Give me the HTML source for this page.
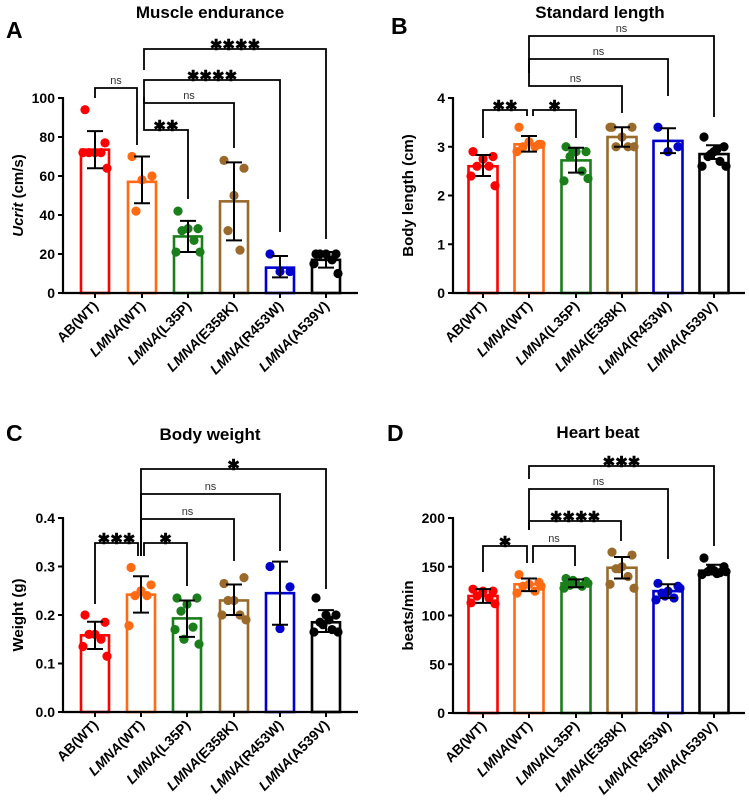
<!DOCTYPE html>
<html><head><meta charset="utf-8"><style>
body{margin:0;background:#fff;width:749px;height:800px;overflow:hidden}
svg{display:block;font-family:"Liberation Sans",Arial,sans-serif}
</style></head><body>
<svg id="s" width="749" height="800" viewBox="0 0 749 800"></svg>
<script>
const S=document.getElementById('s');let h='';
const cols=['#ff0000','#ff6a13','#1a7f1a','#9a6a2c','#0000cc','#000000'];
const names=[['AB(WT)',''],['LMNA','(WT)'],['LMNA','(L35P)'],['LMNA','(E358K)'],['LMNA','(R453W)'],['LMNA','(A539V)']];
function panel(o){
 const {ax,y0,ytop,ymax,ticks,tfmt,cx,xend,bars,brk,title,tx,ty,letter,lx,ly,ylab,bw}=o;
 const Y=v=>y0-(v/ymax)*(y0-ytop);
 h+=`<text x="${lx}" y="${ly}" font-size="23" font-weight="bold">${letter}</text>`;
 h+=`<text x="${tx}" y="${ty}" font-size="17" font-weight="bold" text-anchor="middle">${title}</text>`;
 bars.forEach((b,i)=>{const x=cx[i],c=cols[i];
  h+=`<rect x="${x-bw/2}" y="${Y(b.m)}" width="${bw}" height="${y0-Y(b.m)}" fill="none" stroke="${c}" stroke-width="2.6"/>`;
 });
 bars.forEach((b,i)=>{const x=cx[i],c=cols[i];
  b.p.forEach((v,k)=>{const off=[-10,10,0,-6,6,-12,12,-3,3][k%9];
   h+=`<circle cx="${x+off}" cy="${Y(v)}" r="4.6" fill="${c}"/>`;});
  h+=`<path d="M${x} ${Y(b.lo)}V${Y(b.hi)}M${x-8} ${Y(b.lo)}H${x+8}M${x-8} ${Y(b.hi)}H${x+8}" stroke="#000" stroke-width="2" fill="none"/>`;
 });
 h+=`<path d="M${ax} ${ytop-1}V${y0}H${xend}" stroke="#000" stroke-width="2.2" fill="none"/>`;
 ticks.forEach(t=>{const y=Y(t);h+=`<path d="M${ax-5} ${y}H${ax}" stroke="#000" stroke-width="2"/>`;
  h+=`<text x="${ax-8}" y="${y+5}" font-size="14" font-weight="bold" text-anchor="end">${tfmt(t)}</text>`;});
 cx.forEach((x,i)=>{h+=`<path d="M${x} ${y0}V${y0+5}" stroke="#000" stroke-width="2"/>`;
  const n=names[i];const lab=n[1]?`<tspan font-style="italic">${n[0]}</tspan>${n[1]}`:n[0];
  h+=`<text transform="translate(${x+4},${y0+14}) rotate(-45)" font-size="14" font-weight="bold" text-anchor="end">${lab}</text>`;});
 h+=`<text transform="translate(${ax-40},${(y0+ytop)/2}) rotate(-90)" font-size="15" font-weight="bold" text-anchor="middle">${ylab}</text>`;
 brk.forEach(b=>{const [x1,l1,x2,l2,y,lab]=b;
  h+=`<path d="M${x1} ${l1}V${y}H${x2}V${l2}" stroke="#000" stroke-width="1.8" fill="none"/>`;
  const ns=lab=='ns';
  h+=`<text x="${(x1+x2)/2}" y="${ns?y-4:y+1}" font-size="${ns?11:15}" font-weight="${ns?'normal':'bold'}" text-anchor="middle" fill="${ns?'#333':'#000'}">${ns?'ns':lab.replace(/\*/g,'✱')}</text>`;
 });
}
const cxL=[95,142,188,234,280,326],cxR=[483,529,576,622,668,714];
panel({ax:63,y0:293,ytop:98,ymax:100,ticks:[0,20,40,60,80,100],tfmt:t=>t,cx:cxL,xend:358,bw:28,
 title:'Muscle endurance',tx:210,ty:18,letter:'A',lx:6,ly:38,ylab:'<tspan font-style="italic">Ucrit</tspan> (cm/s)',
 bars:[{m:73.5,lo:64,hi:83,p:[94,77,72,72,72,72,64]},{m:57,lo:46,hi:70,p:[70,60,58,42]},
  {m:29,lo:21,hi:37,p:[42,33,33,32,27,21,21]},{m:47,lo:27,hi:67,p:[68,64,50,32,22]},
  {m:13,lo:8,hi:19,p:[20,11,11]},{m:17,lo:13,hi:21,p:[20,20,20,20,17,15,10]}],
 brk:[[95,98,137,145,88,'ns'],[144,97,188,199,130,'**'],[144,97,234,148,103,'ns'],[144,97,280,232,80,'****'],[144,70,326,239,49,'****']]});
panel({ax:453,y0:293,ytop:98,ymax:4,ticks:[0,1,2,3,4],tfmt:t=>t,cx:cxR,xend:745,bw:29,
 title:'Standard length',tx:600,ty:18,letter:'B',lx:391,ly:34,ylab:'Body length (cm)',
 bars:[{m:2.6,lo:2.4,hi:2.83,p:[2.9,2.8,2.75,2.6,2.6,2.4,2.2]},{m:3.05,lo:2.9,hi:3.22,p:[3.4,3.05,3.1,3.0,3.0,2.9,3.05]},
  {m:2.72,lo:2.47,hi:2.98,p:[3.0,2.9,2.9,2.8,2.5,2.3,2.35,2.9]},{m:3.2,lo:3.0,hi:3.4,p:[3.4,3.4,3.2,3.0,3.0,3.4,3.0]},
  {m:3.12,lo:2.87,hi:3.38,p:[3.4,3.0,2.9]},{m:2.85,lo:2.75,hi:3.03,p:[3.2,3.0,2.9,2.8,2.7,2.6,2.6,2.85,2.95]}],
 brk:[[483,138,527,116,110,'**'],[533,116,576,138,110,'*'],[529,73,622,113,86,'ns'],[529,73,668,96,59,'ns'],[529,73,714,117,36,'ns']]});
panel({ax:63,y0:712,ytop:518,ymax:0.4,ticks:[0,0.1,0.2,0.3,0.4],tfmt:t=>t.toFixed(1),cx:[95,141,187,234,280,326],xend:358,bw:28,
 title:'Body weight',tx:210,ty:440,letter:'C',lx:6,ly:441,ylab:'Weight (g)',
 bars:[{m:0.158,lo:0.13,hi:0.186,p:[0.2,0.185,0.16,0.16,0.15,0.135,0.115]},{m:0.242,lo:0.205,hi:0.28,p:[0.298,0.262,0.25,0.24,0.24,0.178]},
  {m:0.193,lo:0.155,hi:0.23,p:[0.235,0.235,0.222,0.208,0.175,0.17,0.14,0.15]},{m:0.23,lo:0.2,hi:0.263,p:[0.265,0.277,0.23,0.23,0.2,0.2,0.19]},
  {m:0.245,lo:0.18,hi:0.31,p:[0.3,0.258,0.172]},{m:0.185,lo:0.165,hi:0.21,p:[0.235,0.2,0.2,0.185,0.17,0.165,0.165,0.18,0.19]}],
 brk:[[95,604,138,556,543,'***'],[144,556,187,586,543,'*'],[141,556,234,561,519,'ns'],[141,556,280,551,494,'ns'],[141,530,326,589,469,'*']]});
panel({ax:453,y0:713,ytop:518,ymax:200,ticks:[0,50,100,150,200],tfmt:t=>t,cx:cxR,xend:745,bw:29,
 title:'Heart beat',tx:598,ty:438,letter:'D',lx:387,ly:441,ylab:'beats/min',
 bars:[{m:120,lo:113,hi:127,p:[127,125,125,120,118,113,112]},{m:132,lo:125,hi:138,p:[142,134,132,130,125,123,130]},
  {m:133,lo:129,hi:137,p:[138,135,133,131,130,128,133,136]},{m:149,lo:138,hi:160,p:[165,162,150,148,140,132,128,148]},
  {m:125,lo:118,hi:132,p:[133,130,125,123,118,116,128,120]},{m:146,lo:142,hi:152,p:[159,150,146,145,144,142,145,148,143]}],
 brk:[[483,572,527,563,546,'*'],[533,563,575,566,546,'ns'],[529,530,621,541,521,'****'],[529,530,668,559,489,'ns'],[529,479,714,546,466,'***']]});
S.innerHTML=h;
</script>
</body></html>
